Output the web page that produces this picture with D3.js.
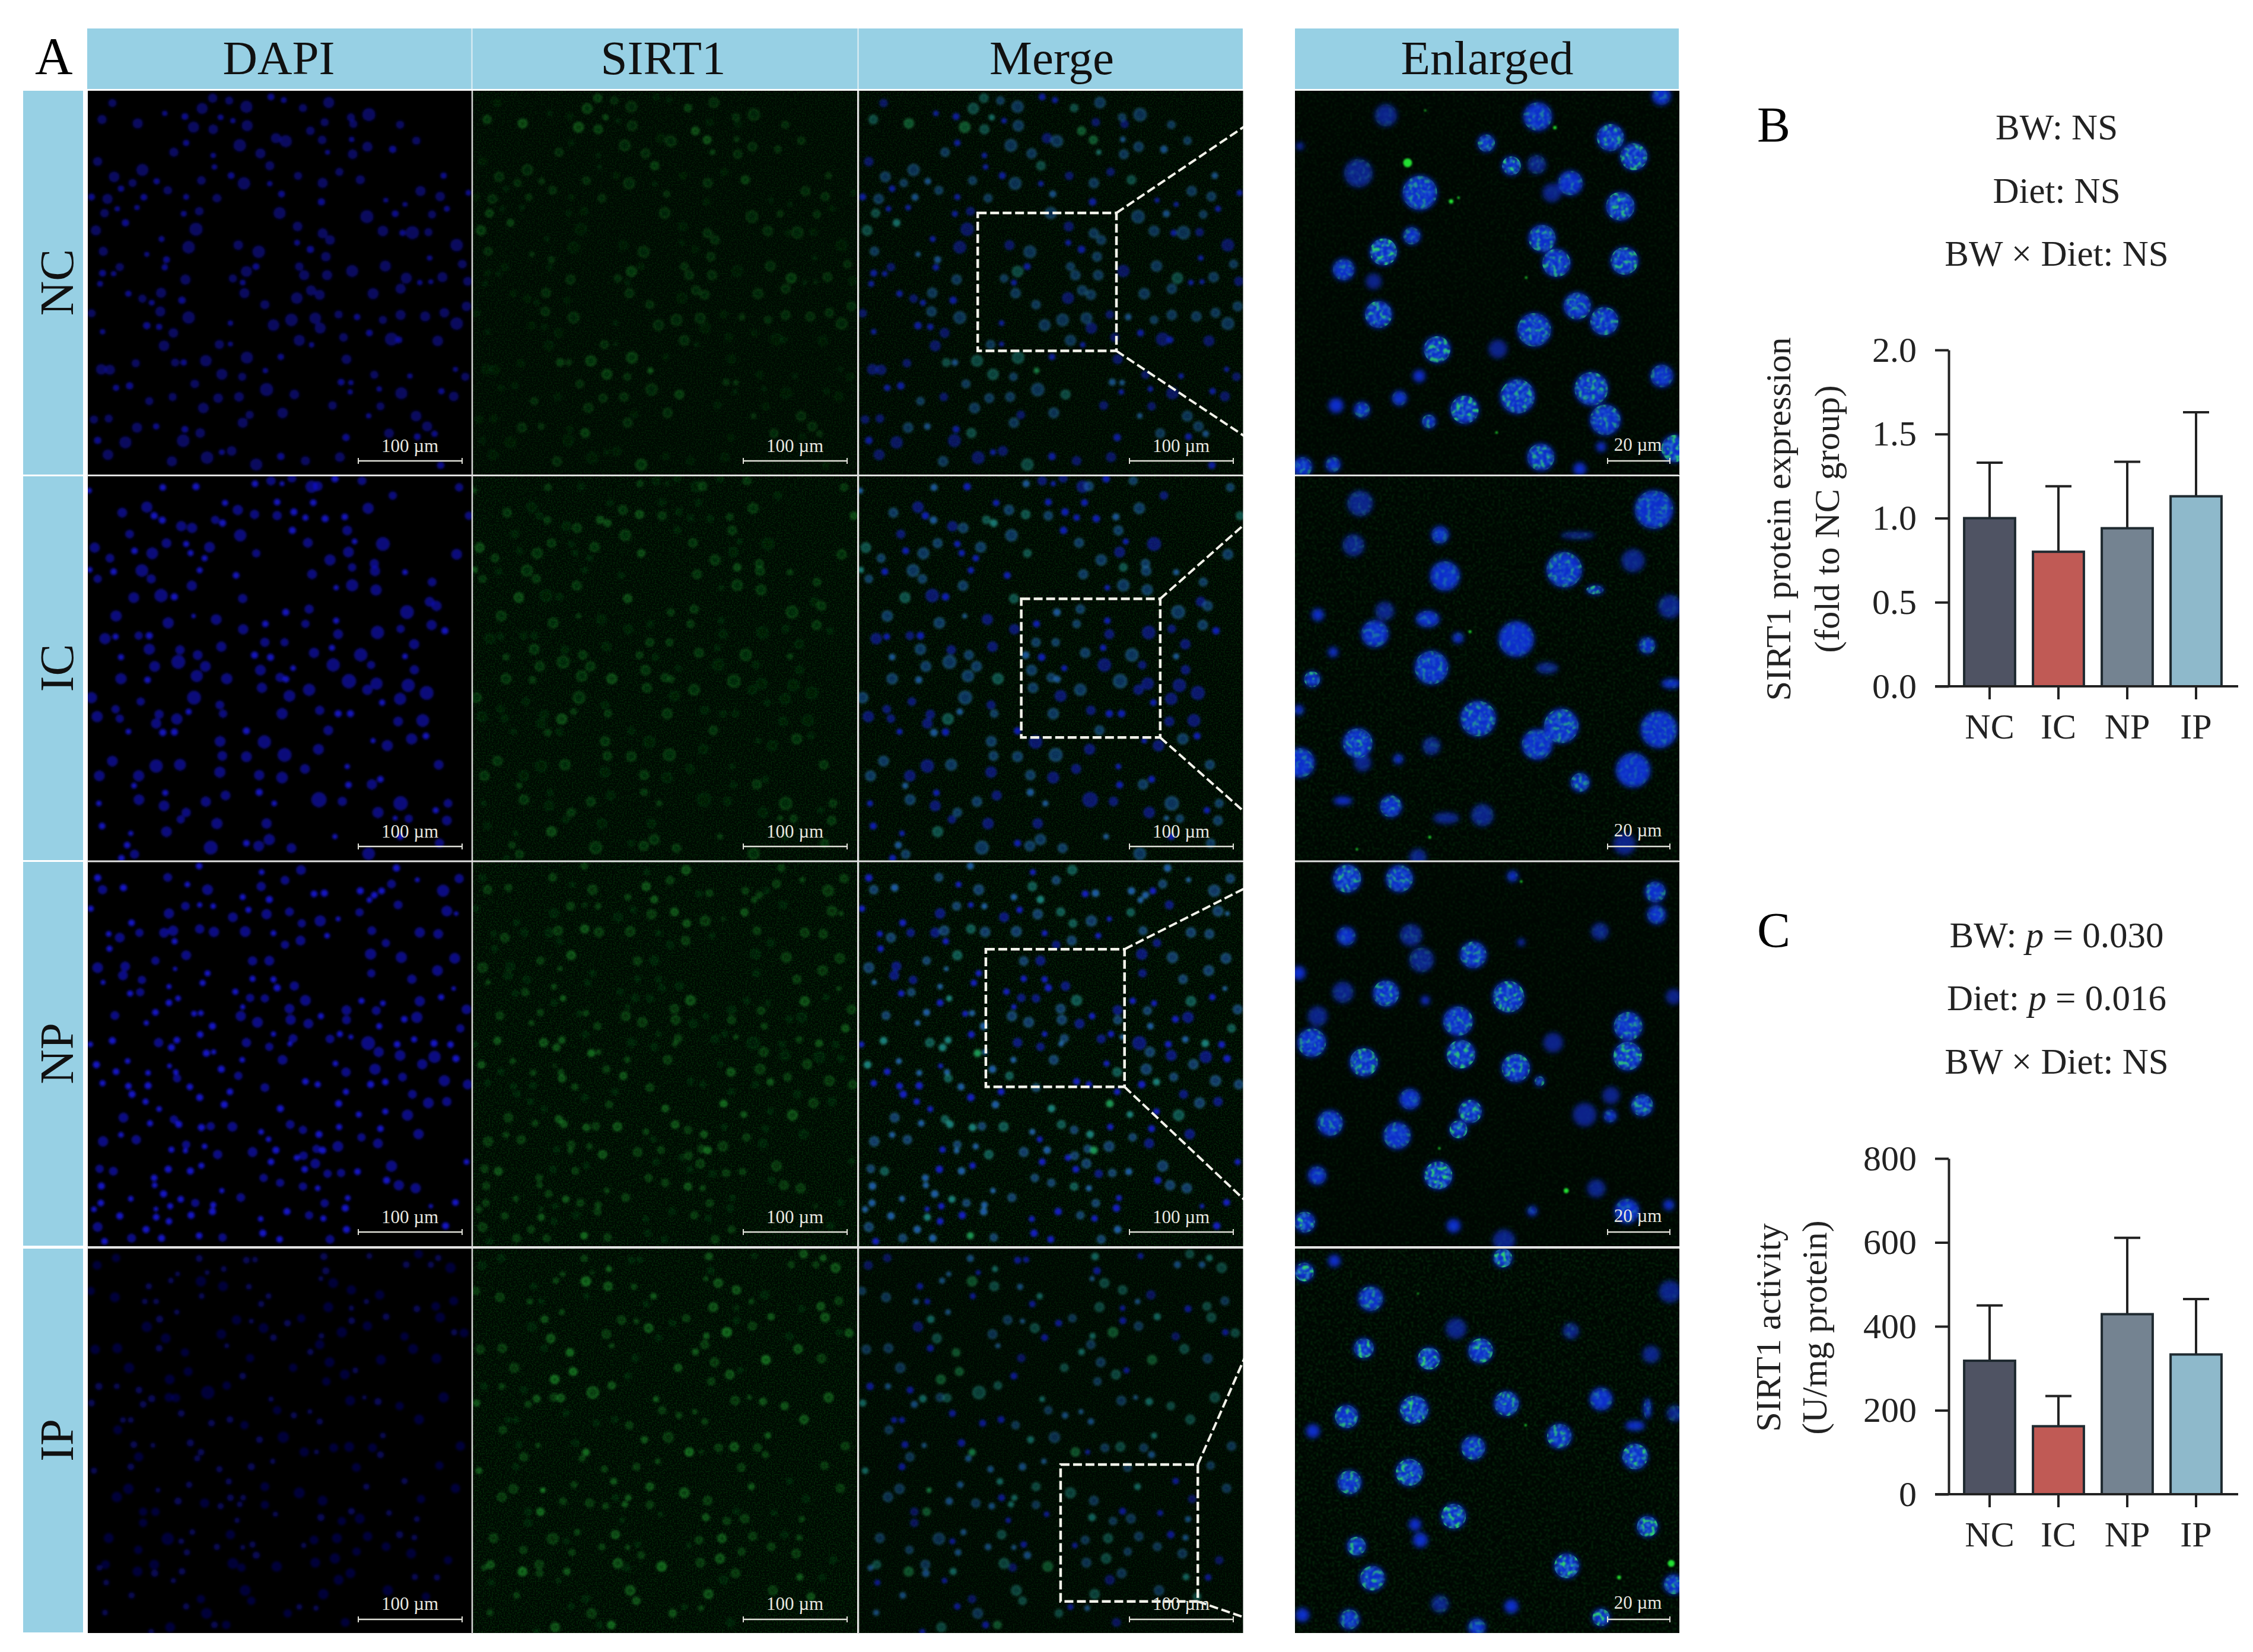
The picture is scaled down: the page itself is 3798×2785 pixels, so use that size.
<!DOCTYPE html>
<html><head><meta charset="utf-8">
<script src="https://cdn.jsdelivr.net/npm/d3@7/dist/d3.min.js"></script>
<style>html,body{margin:0;padding:0;background:#fff}svg{display:block}text{font-family:"Liberation Serif","Times New Roman",serif}</style>
</head><body><svg id="fig" width="3798" height="2785" viewBox="0 0 3798 2785"></svg>
<script>
// ---------- bar chart data ----------
const groups = ["NC","IC","NP","IP"];
const proteinMean = [1.0,0.80,0.94,1.13];
const proteinUpper = [1.33,1.19,1.335,1.63];
const activityMean = [318,162,429,333];
const activityUpper = [450,234,611,465];
const proteinTicks = [0,0.5,1.0,1.5,2.0];
const activityTicks = [0,200,400,600,800];
const barColors = ["#4f5363","#c05a55","#748391","#8eb9cb"];
const columnTitles = ["DAPI","SIRT1","Merge"];
const statsB = ["BW: NS","Diet: NS","BW × Diet: NS"];
// ---------- micrograph cells: [x, y, radius, green level, stretch] ----------
const fieldNC = [[508,30,16,2],[575,40,14,1],[645,65,22,1],[465,72,20,2],[745,25,12,0],[797,38,10,0],[875,70,14,2],[980,48,20,1],[1070,108,14,1],[1143,97,24,1],[1270,138,14,1],[58,117,16,2],[203,133,18,3],[430,148,20,3],[510,157,17,2],[648,142,20,1],[905,163,15,3],[1080,135,14,0],[963,128,14,0],[100,50,14,0],[313,92,9,0],[395,105,12,0],[540,108,10,2],[590,122,9,0],[765,193,18,0],[805,205,22,1],[953,200,15,3],[1073,198,9,1],[1137,228,18,1],[1336,203,14,1],[618,222,23,1],[702,255,18,1],[400,212,11,0],[350,250,16,1],[975,250,8,2],[1077,258,17,1],[1240,238,13,1],[740,305,16,2],[40,288,16,0],[222,322,22,1],[510,263,9,0],[515,310,9,0],[107,350,19,1],[583,345,12,0],[855,346,14,0],[1023,330,14,0],[1108,362,16,2],[280,368,11,1],[182,375,14,1],[462,365,15,1],[635,377,23,1],[955,375,18,1],[1447,345,11,1],[325,405,15,1],[135,398,11,0],[15,432,12,0],[80,440,18,1],[228,433,12,1],[400,432,10,0],[525,437,15,1],[788,420,12,1],[740,378,9,0],[1353,408,18,1],[1433,430,17,1],[1548,415,10,0],[950,452,13,0],[1212,445,8,0],[1290,462,8,0],[68,498,15,2],[120,480,9,0],[200,475,9,0],[390,500,10,0],[453,490,15,0],[780,497,22,1],[1135,512,24,1],[1250,500,12,1],[1400,503,14,1],[1460,480,10,0],[153,537,13,2],[33,568,18,2],[440,563,24,0],[1200,570,19,1],[1320,577,24,1],[1280,578,11,0],[1385,575,14,0],[853,552,17,0],[955,580,18,1],[985,607,17,1],[300,603,10,0],[410,636,23,0],[612,628,17,0],[851,618,10,0],[905,645,13,0],[695,655,23,1],[63,653,16,1],[968,675,17,1],[1500,628,23,0],[1390,680,9,0],[320,687,12,1],[240,665,8,1],[130,717,14,0],[313,718,11,0],[1210,713,20,1],[860,715,15,1],[880,750,18,1],[684,715,12,0],[645,735,20,2],[973,750,18,1],[1075,733,22,0],[1523,705,15,1],[60,742,12,0],[105,744,9,0],[397,768,18,1],[1295,762,20,2],[1442,758,18,1],[1350,780,9,0],[1395,777,8,0],[590,763,14,1],[1545,775,16,0],[630,780,10,0],[50,785,10,0],[1272,805,18,1],[908,812,18,1],[943,830,18,1],[637,823,18,1],[298,822,18,1],[165,825,11,0],[1160,825,20,1],[222,845,14,0],[383,852,13,0],[850,843,21,0],[260,862,10,0],[720,870,16,1],[295,898,18,1],[15,905,14,0],[1540,877,17,1],[410,922,23,1],[1272,912,18,1],[1372,918,18,1],[1450,903,17,1],[828,932,23,1],[925,925,21,1],[1020,910,14,0],[1095,920,11,1],[1200,932,14,1],[755,953,21,1],[945,965,20,0],[1500,947,23,1],[580,945,9,0],[240,955,13,0],[290,960,11,0],[60,980,9,0],[348,985,17,0],[1145,985,12,0],[1040,1003,15,0],[1235,1010,24,0],[1265,1013,12,0],[1423,1017,19,0],[860,1015,20,1],[535,1032,16,1],[310,1037,19,0],[580,1030,8,0],[910,1033,9,0],[480,1098,21,2],[647,1085,22,2],[1052,1092,17,0],[355,1105,14,2],[390,1105,11,1],[195,1108,14,0],[785,1082,11,0],[55,1133,19,0],[90,1135,18,0],[545,1153,20,2],[628,1163,14,1],[722,1138,9,3],[1165,1155,14,0],[1310,1160,9,0],[1535,1163,14,0],[1495,1133,8,0],[435,1192,15,1],[1030,1185,12,1],[1070,1187,9,1],[115,1208,11,0],[170,1200,13,0],[727,1215,24,1],[1185,1213,9,0],[1275,1230,22,0],[1438,1222,11,0],[840,1235,17,2],[530,1250,17,1],[615,1245,17,1],[1067,1225,9,0],[1488,1243,17,0],[345,1245,14,0],[250,1262,14,1],[470,1290,19,1],[1190,1283,14,0],[792,1310,19,1],[995,1280,15,0],[658,1318,14,0],[1335,1323,19,1],[85,1333,14,0],[25,1337,14,0],[630,1350,18,1],[1142,1322,9,1],[200,1370,18,1],[278,1365,11,1],[395,1377,12,0],[1380,1365,18,1],[457,1392,17,2],[1410,1395,11,1],[1225,1393,17,1],[40,1422,13,0],[153,1430,22,0],[388,1423,23,0],[1050,1410,13,0],[1340,1407,12,0],[82,1480,19,0],[585,1465,17,0],[485,1492,23,0],[545,1470,10,0],[785,1487,13,0],[1025,1490,17,0],[342,1507,18,1],[885,1505,16,0],[685,1520,22,2],[1435,1523,13,0]];
const fieldIC = [[745,18,16,0],[680,30,12,1],[830,8,15,0],[1115,18,15,1],[1005,10,13,0],[910,42,22,0],[935,40,17,1],[1240,78,14,0],[1510,45,14,1],[305,45,12,1],[440,42,13,0],[790,30,8,0],[5,58,10,1],[770,105,12,0],[558,108,11,0],[917,107,12,0],[240,125,20,0],[270,160,13,0],[140,148,17,1],[610,137,18,1],[678,155,16,2],[770,160,16,1],[838,145,13,0],[1140,130,20,1],[1045,165,12,1],[885,168,11,0],[965,172,13,0],[518,177,14,2],[548,190,13,2],[303,178,13,1],[380,203,18,0],[424,210,18,1],[170,235,15,0],[620,240,22,1],[832,220,13,0],[1055,220,17,1],[1550,160,14,2],[320,272,17,1],[400,275,11,0],[1085,265,10,0],[1200,275,25,0],[895,270,17,1],[28,290,18,2],[495,288,19,1],[190,303,12,0],[262,313,21,1],[685,313,14,2],[1060,308,19,0],[1500,317,19,1],[418,312,11,0],[90,333,15,1],[475,333,11,0],[985,340,20,1],[1165,355,16,1],[1168,385,18,1],[1075,370,14,2],[220,383,23,1],[8,380,10,2],[105,388,12,0],[455,382,11,0],[1290,390,10,1],[603,403,12,0],[912,398,17,1],[40,417,14,1],[258,417,16,1],[1400,430,15,1],[423,445,18,1],[1075,443,22,1],[1010,453,9,0],[1172,462,20,1],[187,493,19,2],[298,485,24,0],[352,490,13,0],[630,497,16,2],[1390,510,17,0],[1418,527,18,1],[1298,552,25,1],[805,553,13,1],[900,540,16,1],[115,568,20,1],[522,582,19,0],[430,568,7,1],[327,596,20,1],[885,600,14,1],[1010,587,11,0],[722,600,12,0],[1398,605,18,1],[632,622,18,0],[1272,620,14,0],[1178,635,24,0],[1018,642,17,0],[1452,628,13,0],[70,660,20,0],[113,652,11,0],[207,648,14,0],[250,648,13,0],[720,675,16,1],[800,675,14,1],[1327,683,18,0],[543,693,18,0],[250,703,20,1],[375,706,16,0],[993,697,11,0],[920,718,18,1],[1110,726,24,1],[447,727,17,1],[678,727,13,1],[135,735,11,1],[743,736,13,0],[1290,732,10,1],[368,755,25,1],[998,767,24,0],[478,773,19,1],[272,773,19,1],[835,780,10,0],[1152,767,14,0],[702,788,19,1],[1328,787,16,0],[135,823,20,1],[443,812,22,1],[565,823,20,2],[782,818,16,1],[806,825,12,1],[243,828,12,1],[1062,833,26,1],[1174,843,22,0],[1303,850,24,0],[1137,868,18,0],[708,860,18,1],[900,868,22,1],[1378,881,25,0],[15,900,20,1],[432,900,25,1],[820,893,21,0],[215,916,14,0],[1270,905,22,0],[1197,920,11,0],[537,930,15,0],[113,947,14,0],[943,952,16,0],[790,965,20,1],[410,957,11,1],[38,977,20,0],[1018,965,13,0],[1068,965,13,0],[550,965,14,1],[130,985,14,0],[290,968,16,0],[362,987,20,2],[278,1005,18,0],[1362,993,23,0],[1262,997,17,0],[978,1033,17,1],[305,1042,13,1],[352,1040,13,0],[165,1038,10,0],[645,1035,13,0],[1317,1068,20,1],[1375,1056,12,0],[538,1078,19,1],[718,1080,24,0],[1160,1075,9,0],[1218,1095,20,0],[938,1110,19,0],[800,1133,25,1],[547,1137,17,1],[645,1140,19,1],[100,1158,19,1],[1427,1173,17,1],[278,1178,24,0],[375,1173,21,1],[883,1190,17,0],[1055,1180,9,0],[537,1203,20,0],[207,1218,20,0],[47,1218,19,1],[697,1215,18,1],[790,1225,21,0],[1155,1253,18,1],[1190,1232,12,0],[1060,1255,12,0],[188,1258,10,1],[315,1287,11,0],[560,1298,17,0],[697,1285,13,1],[940,1315,28,0],[1035,1322,16,0],[1272,1330,26,1],[208,1315,19,1],[480,1323,18,1],[310,1340,19,0],[45,1330,10,0],[758,1330,10,1],[1465,1330,15,1],[400,1367,16,1],[1180,1367,20,0],[1415,1358,11,0],[378,1395,14,0],[1460,1400,17,1],[1305,1392,14,1],[525,1412,20,0],[727,1412,18,0],[58,1422,12,0],[320,1445,19,2],[1250,1390,8,1],[175,1452,9,0],[738,1477,20,1],[1005,1465,9,1],[160,1500,12,1],[645,1492,12,0],[695,1503,19,1],[500,1510,25,1],[828,1512,17,1],[190,1537,16,1],[137,1553,12,0],[1142,1535,23,1],[1270,1465,12,0],[1430,1492,16,1]];
const fieldNP = [[867,33,17,2],[40,65,13,0],[325,63,15,1],[453,17,12,1],[707,42,10,0],[802,75,15,1],[1255,25,13,1],[1510,68,16,1],[60,113,16,1],[145,105,13,1],[405,92,10,0],[487,113,19,1],[705,100,16,2],[1235,90,15,1],[1445,117,22,1],[1340,73,8,1],[630,143,11,1],[738,153,13,2],[920,130,12,0],[962,127,13,1],[1108,118,13,1],[1165,135,12,1],[1195,118,12,0],[1145,155,10,1],[12,190,11,0],[397,180,15,1],[455,175,9,0],[510,180,10,1],[1262,175,15,0],[330,210,18,0],[590,225,17,0],[653,195,11,0],[727,213,18,1],[820,203,15,2],[1105,205,14,2],[1460,200,19,1],[1498,210,7,1],[178,248,12,0],[945,240,20,1],[870,250,14,2],[1018,232,8,0],[85,293,10,0],[130,308,17,1],[210,288,14,0],[310,288,17,0],[347,280,18,1],[455,273,16,2],[513,285,18,1],[640,283,19,1],[755,290,10,0],[1155,280,15,1],[1350,287,18,1],[1425,293,17,1],[973,300,10,0],[353,323,11,0],[865,320,17,1],[802,337,14,0],[1212,330,14,0],[88,353,11,0],[1150,375,20,0],[400,380,17,2],[670,403,16,1],[738,402,17,0],[275,402,14,1],[1275,388,20,1],[1492,392,19,1],[40,430,19,1],[152,425,17,0],[143,462,17,0],[355,435,7,1],[487,453,11,0],[1153,453,14,0],[1422,442,19,1],[670,475,11,0],[755,478,11,0],[220,480,14,0],[62,490,8,1],[1318,477,16,1],[467,492,11,0],[770,512,13,0],[840,505,16,0],[330,507,9,1],[172,535,11,0],[213,530,14,1],[600,528,11,0],[1488,515,7,1],[660,553,14,0],[720,555,14,0],[885,563,19,2],[367,555,10,2],[1113,565,11,0],[1350,567,18,2],[1437,550,11,0],[330,573,12,0],[1200,575,10,0],[820,597,17,1],[1052,603,17,0],[1173,605,15,1],[432,617,10,0],[460,615,10,1],[275,612,12,1],[1540,600,17,1],[630,590,9,0],[110,625,15,1],[622,627,18,1],[948,627,11,0],[825,642,18,1],[1287,640,12,0],[1338,632,20,0],[1052,643,15,1],[690,652,19,1],[897,658,17,0],[238,655,9,1],[507,668,13,1],[1185,668,11,1],[1515,677,14,2],[457,702,12,0],[1025,700,11,0],[985,720,15,0],[1070,712,8,1],[755,700,9,0],[835,718,15,1],[645,735,16,0],[100,727,13,2],[288,735,16,2],[362,725,12,2],[1327,722,11,1],[1140,737,25,0],[1408,738,13,2],[1475,743,12,0],[10,742,10,0],[1258,742,12,0],[340,755,13,2],[738,752,14,0],[822,740,9,1],[482,778,13,3],[1183,773,18,1],[512,773,9,1],[1270,787,19,0],[1410,793,22,0],[1497,800,13,0],[792,805,17,1],[162,810,10,1],[628,805,10,1],[1360,823,18,1],[35,825,13,2],[1007,820,10,0],[115,853,12,0],[332,830,8,0],[1168,843,20,1],[543,843,13,1],[245,858,10,1],[358,855,10,1],[1050,855,16,2],[612,870,14,2],[363,880,14,2],[1280,875,15,1],[1450,890,20,1],[60,900,11,0],[1150,905,13,0],[885,893,12,0],[1210,895,12,2],[415,915,12,1],[1545,905,17,1],[245,910,13,0],[165,912,12,0],[935,905,11,0],[720,918,15,1],[578,935,12,0],[1050,935,11,0],[180,945,13,0],[1320,945,15,0],[455,958,13,0],[1385,980,19,1],[1460,975,16,0],[1020,983,13,3],[235,975,11,0],[555,987,13,1],[783,1003,13,2],[1210,1015,11,0],[1300,1030,20,2],[145,1040,17,1],[290,1005,10,0],[1102,1027,11,2],[350,1047,14,2],[370,1067,13,2],[823,1068,15,2],[253,1063,11,1],[462,1080,13,2],[500,1075,14,1],[588,1077,17,2],[1022,1078,11,0],[875,1090,14,1],[1190,1085,12,0],[940,1108,13,2],[1345,1107,18,0],[705,1098,10,1],[135,1110,10,1],[1113,1120,14,1],[62,1137,18,1],[197,1130,16,1],[735,1128,10,0],[1180,1145,17,0],[400,1150,14,1],[1017,1157,19,1],[475,1157,10,1],[340,1170,11,0],[930,1167,14,1],[955,1173,13,3],[397,1175,9,1],[765,1172,13,1],[670,1180,17,1],[528,1190,16,2],[877,1195,15,1],[850,1203,11,0],[745,1220,12,0],[925,1227,17,1],[1540,1220,10,0],[1235,1237,20,1],[462,1235,11,0],[48,1248,14,1],[104,1258,15,2],[327,1250,13,0],[417,1257,13,1],[882,1250,12,0],[975,1268,14,0],[1030,1265,14,1],[1097,1260,12,1],[270,1285,12,1],[715,1285,14,1],[1215,1295,13,0],[55,1318,13,1],[272,1315,10,1],[782,1305,14,1],[875,1320,14,2],[1265,1315,18,1],[1333,1327,18,1],[935,1327,10,1],[545,1337,9,1],[308,1350,13,1],[622,1365,15,1],[378,1372,12,2],[1057,1367,10,0],[175,1370,10,1],[437,1387,14,1],[53,1387,12,1],[963,1388,14,1],[1495,1385,12,0],[335,1400,11,0],[510,1395,11,1],[25,1413,10,1],[1047,1408,13,0],[1395,1400,7,0],[277,1412,8,0],[507,1422,13,1],[810,1422,13,0],[900,1437,14,1],[130,1440,13,1],[278,1445,12,2],[420,1437,13,0],[703,1452,10,0],[958,1450,11,0],[330,1462,12,0],[40,1485,17,1],[237,1495,13,1],[1052,1495,13,1],[1455,1480,13,0],[453,1520,12,3],[178,1530,15,1],[300,1530,13,1],[548,1527,14,1],[985,1535,15,1],[712,1510,13,0],[780,1535,12,0],[68,1543,12,0]];
const fieldIP = [[115,38,14,0],[453,40,12,1],[960,32,13,2],[645,47,12,0],[680,45,10,0],[1425,38,11,2],[1345,22,15,2],[38,68,15,0],[1145,30,10,0],[1295,65,12,1],[1475,78,18,2],[553,83,10,2],[1395,65,11,1],[485,97,8,0],[968,90,13,0],[365,103,8,1],[460,133,18,3],[550,153,17,2],[338,130,10,1],[248,153,11,0],[998,140,17,2],[655,155,10,1],[12,172,14,1],[1072,168,16,2],[110,198,17,1],[735,193,10,2],[463,193,10,0],[1187,188,16,0],[948,122,8,1],[1488,213,15,1],[278,215,10,0],[232,215,10,1],[705,225,11,0],[1133,215,9,1],[978,238,17,2],[1415,235,15,2],[1072,242,9,0],[1338,245,12,0],[362,258,9,1],[1213,277,12,2],[292,287,13,2],[605,290,16,1],[665,295,8,1],[868,283,14,1],[1433,280,17,2],[812,303,12,0],[1073,293,12,0],[240,318,18,0],[1137,315,16,1],[715,323,17,2],[1033,340,18,3],[543,348,17,1],[1530,343,15,2],[1490,340,11,0],[1288,357,14,0],[755,362,12,0],[950,355,10,2],[317,365,17,2],[943,390,16,1],[905,420,11,2],[120,405,17,1],[30,410,16,1],[395,422,14,3],[290,405,12,0],[565,395,8,1],[1323,408,17,2],[660,445,14,0],[1418,447,17,1],[1192,452,17,3],[168,485,18,1],[983,462,17,1],[835,484,14,2],[408,500,15,3],[1045,512,17,2],[1088,495,10,0],[630,518,12,0],[333,532,17,3],[970,540,14,1],[45,560,13,0],[118,560,10,1],[565,557,14,2],[488,585,24,2],[208,575,12,0],[260,610,13,2],[330,605,15,1],[358,607,15,2],[225,633,12,1],[1067,618,17,1],[1447,605,18,2],[745,612,9,2],[1125,605,7,1],[1180,622,13,2],[15,628,12,2],[1268,640,14,2],[770,657,14,1],[380,670,12,0],[838,678,11,1],[903,663,8,1],[143,697,10,0],[175,697,10,0],[578,695,12,0],[1347,695,17,2],[943,703,11,1],[503,710,12,0],[637,718,14,1],[122,737,15,1],[795,767,20,1],[698,777,12,2],[1200,760,10,2],[1515,803,16,1],[187,797,12,0],[417,790,13,0],[265,800,8,1],[1063,806,17,2],[1000,810,15,1],[1158,810,15,1],[880,827,16,3],[930,827,8,0],[460,828,12,3],[207,847,16,1],[445,853,11,1],[1190,838,12,1],[752,865,9,1],[175,887,12,0],[665,887,13,1],[25,903,11,2],[1430,882,14,1],[1092,890,15,1],[535,897,11,1],[573,947,11,2],[1288,945,11,0],[412,960,11,1],[720,968,15,2],[1133,968,11,2],[165,977,18,1],[1495,975,16,1],[285,982,8,3],[860,993,19,2],[118,1010,18,1],[580,1013,12,0],[632,1013,10,2],[955,1025,17,1],[367,1027,13,1],[475,1035,16,1],[540,1047,11,1],[720,1042,14,1],[618,1040,10,2],[1355,1018,14,0],[225,1070,14,0],[275,1070,14,3],[1072,1068,12,0],[763,1080,9,0],[1225,1075,10,0],[948,1093,13,2],[1033,1108,14,1],[1106,1098,17,1],[607,1105,9,0],[225,1115,14,0],[1338,1100,10,1],[425,1153,10,1],[85,1177,17,1],[325,1180,22,1],[380,1190,10,0],[580,1163,16,2],[1138,1170,16,1],[1268,1163,13,0],[920,1185,15,1],[1013,1178,17,2],[1328,1175,10,1],[878,1207,9,0],[670,1203,11,0],[525,1213,11,1],[205,1225,14,1],[1213,1212,15,1],[403,1235,11,1],[630,1215,8,1],[1093,1232,14,1],[685,1247,13,1],[1315,1240,17,1],[1005,1260,18,2],[1465,1267,14,0],[925,1277,17,1],[72,1285,15,2],[47,1298,10,1],[270,1285,17,1],[272,1320,13,1],[590,1280,19,2],[768,1293,18,3],[202,1313,17,3],[383,1313,12,2],[625,1297,14,0],[1068,1320,17,1],[1020,1347,17,0],[1330,1335,11,2],[1420,1337,11,0],[75,1358,10,0],[348,1350,9,0],[640,1390,19,2],[1220,1390,18,1],[958,1405,18,2],[178,1410,11,1],[460,1425,14,0],[665,1432,14,2],[1375,1415,14,2],[400,1455,11,0],[860,1457,10,0],[70,1480,10,1],[483,1483,19,1],[813,1483,14,2],[928,1462,9,1],[1047,1520,15,0],[335,1540,17,2],[563,1530,14,3],[515,1530,12,0],[258,1558,10,0]];
const enlargedNC = [[370,100,45,.2],[987,105,58,.7],[1490,20,38,.5],[1283,190,55,1.2],[1378,268,55,1.4],[778,213,35,1.2],[20,225,14,0],[258,335,58,.3],[880,305,38,2.2],[983,300,38,.3],[1120,375,50,.6],[1045,415,38,.1],[508,415,70,.9],[1323,470,58,1.4],[475,590,35,.8],[1005,600,55,1.1],[360,655,55,1.6],[1063,700,57,1.2],[1340,692,56,1.4],[198,727,44,.7],[320,775,32,0],[340,910,55,1.2],[1148,875,55,1],[1258,937,57,1.1],[973,972,68,1],[578,1052,54,1.4],[825,1050,38,0],[505,1160,25,0],[1205,1212,68,1.2],[1492,1160,46,.7],[905,1243,70,1.2],[690,1297,57,1.5],[167,1280,30,0],[272,1297,32,.6],[425,1250,30,.3],[545,1345,28,.9],[1262,1338,62,1],[1245,1448,20,0],[1000,1490,55,1.2],[1158,1538,26,0],[1545,1455,55,1.5],[30,1530,40,.8],[155,1520,30,.5]];
const enlargedIC = [[265,110,52,.3],[590,238,35,.5],[238,280,44,.3],[1460,135,78,.7],[1150,240,32,.2,2.2],[1375,343,47,.1],[610,405,60,.4],[1095,380,72,.9],[1220,462,25,1.5,1.4],[1525,530,48,.2],[93,563,25,.1],[365,548,38,.2],[540,580,40,.5,1.2],[325,640,55,.6],[900,662,72,.4],[663,657,22,.2],[1432,688,33,.7],[155,715,20,.1],[555,778,68,.8],[1025,780,32,.2,1.4],[70,825,32,1.4],[1530,843,28,.3,1.4],[745,985,72,.9],[1083,1015,70,1],[985,1090,62,.6],[1480,1030,75,.5],[255,1085,60,1],[20,1165,60,.6],[275,1165,35,.1],[555,1097,36,.3],[420,1150,20,.2],[1375,1195,70,.4],[1160,1245,38,1],[390,1342,44,.8],[615,1390,35,.1,1.5],[762,1378,45,.2],[1340,1495,45,0],[500,1550,35,.1],[15,950,20,.2],[195,1320,25,0,1.5]];
const enlargedNP = [[212,68,57,1.2],[425,68,55,.9],[885,58,22,.3],[1465,122,42,.8],[1470,215,38,.5],[208,302,38,.4],[472,298,45,.3],[515,398,50,.3],[725,378,54,1],[920,327,14,0],[1240,283,35,.2],[15,452,28,0],[195,530,43,.2],[370,535,53,1.1],[868,548,64,1.4],[1540,548,32,0],[530,563,18,0],[92,628,40,.1],[663,648,60,.9],[1355,668,58,1],[68,735,58,1],[1050,735,40,0],[675,782,58,1.4],[280,815,57,1.3],[1353,790,58,1.4],[898,838,57,1.3],[995,892,20,1.2],[1285,950,35,0],[1412,990,44,1.2],[467,965,42,.5],[713,1015,47,1.4],[1178,1028,48,0],[1282,1033,26,.5],[143,1062,52,.8],[665,1088,36,1.5],[415,1113,55,.7],[583,1275,57,2],[90,1275,37,.4],[1225,1328,37,.1],[1350,1420,50,.5],[40,1465,42,1.6],[645,1480,28,.1],[850,1540,45,.1],[1520,1395,22,.1],[965,1420,20,.3]];
const enlargedIP = [[38,95,38,1.7],[845,38,38,2],[308,203,50,.9],[1525,175,45,.1],[160,50,25,0],[655,325,42,.1],[1122,335,32,.3],[280,405,40,2],[545,447,45,2.4],[755,415,50,1.5],[1448,430,35,.1],[485,655,57,2],[860,630,50,1.3],[1245,612,46,.5],[210,683,47,1.3],[1433,650,25,.6,.6],[1545,670,33,.3],[73,742,28,0],[1383,720,28,.1,1.4],[1075,762,50,1.2],[725,810,48,1],[1383,845,52,1.6],[465,910,55,1.6],[222,950,48,1.3],[645,1088,50,1.6],[1433,1130,42,1.8],[488,1122,25,0],[510,1185,30,.1],[250,1210,38,1.4],[1105,1290,50,2],[315,1340,50,1.2],[1540,1365,40,1.2],[590,1445,35,.3],[880,1455,28,.1],[30,1490,28,.1],[222,1508,40,.8],[1245,1500,35,2.4],[740,1540,35,.6]];
const spotsNC = [[458,293,18],[635,450,9],[665,435,5],[1057,150,7],[820,1390,5],[940,760,5],[530,80,4]];
const spotsIC = [[712,632,6],[548,1468,6],[252,1517,5]];
const spotsNP = [[1103,1337,10],[587,1165,5],[920,80,5]];
const spotsIP = [[1318,1337,8],[1530,1280,14],[938,718,5],[500,183,4]];
// dashed inset box [x0,y0,x1,y1] and connector ends [yTop,yBottom], read in the same 0-1568 frame
const boxes = [[483,497,1047,1058],[660,498,1225,1062],[516,355,1080,915],[820,878,1378,1435]];
const connectors = [[145,1405],[195,1365],[108,1375],[445,1500]];
const rowNames = ["NC","IC","NP","IP"];
const fields = [fieldNC,fieldIC,fieldNP,fieldIP];
const enlargeds = [enlargedNC,enlargedIC,enlargedNP,enlargedIP];
const spots = [spotsNC,spotsIC,spotsNP,spotsIP];
const dapiGain = [0.72,0.95,1.0,0.42];
const greenGain = [0.62,0.8,0.9,0.9];
const mergeGain = [0.8,0.92,1.0,0.72];
const haze = [0.2,0.3,0.2,0.36];

// ---------- layout ----------
const svg = d3.select("#fig");
const rowTops = [153,803,1453,2105];
const colLefts = [148,797,1448];
const enlLeft = 2183;
const PW = 648, PH = 648;
const S = d3.scaleLinear().domain([0,1568]).range([0,650]);
const headerFill = "#97d0e4";

const defs = svg.append("defs");
function blur(id,sd){defs.append("filter").attr("id",id).attr("x","-5%").attr("y","-5%").attr("width","110%").attr("height","110%")
  .append("feGaussianBlur").attr("stdDeviation",sd);}
blur("b1",1.9); blur("b3",4); blur("b2",1.8);
function speckle(id,freq,mat,seed,sd){
  const f=defs.append("filter").attr("id",id).attr("x","0").attr("y","0").attr("width","100%").attr("height","100%").attr("color-interpolation-filters","sRGB");
  f.append("feTurbulence").attr("type","fractalNoise").attr("baseFrequency",freq).attr("numOctaves",2).attr("seed",seed).attr("result","n");
  f.append("feColorMatrix").attr("in","n").attr("type","matrix").attr("values",mat).attr("result","c");
  f.append("feGaussianBlur").attr("in","c").attr("stdDeviation",sd).attr("result","cb");
  f.append("feComposite").attr("in","cb").attr("in2","SourceGraphic").attr("operator","in");
}
speckle("spGreen",0.14,"0 0 0 0 0.18  0 0 0 0 0.82  0 0 0 0 0.45  10 0 0 0 -5.6",4,1.2);
speckle("spCyan",0.16,"0 0 0 0 0.18  0 0 0 0 0.56  0 0 0 0 0.82  7 0 0 0 -3.4",9,1.6);
speckle("bgGreen",0.3,"0 0 0 0 0.05  0 0 0 0 0.42  0 0 0 0 0.1  9 0 0 0 -4.9",6,0.9);
speckle("bgLow",0.4,"0 0 0 0 0.03  0 0 0 0 0.3  0 0 0 0 0.06  8 0 0 0 -3.9",3,0.7);

defs.append("clipPath").attr("id","panelClip").append("rect").attr("width",PW).attr("height",PH);

const mergeColor = d3.scaleLinear().domain([0,1,2,3]).range(["#1420e0","#1d5ec0","#188c8c","#16a860"]);
const mergeRing = d3.scaleLinear().domain([0,1,2,3]).range(["#1c34f0","#3a98d0","#38c0b0","#40d878"]);
const rx = d=>S(d[2])*(d[4]||1), ry = d=>S(d[2])/(d[4]||1);

function panel(x,y){
  const g = svg.append("g").attr("transform",`translate(${x},${y})`).attr("clip-path","url(#panelClip)");
  g.append("rect").attr("width",PW).attr("height",PH).attr("fill","#000");
  return g;
}
function dapiPanel(g,cells,gain){
  g.append("g").attr("filter","url(#b1)").selectAll("ellipse").data(cells).join("ellipse")
    .attr("cx",d=>S(d[0])).attr("cy",d=>S(d[1])).attr("rx",rx).attr("ry",ry)
    .attr("fill","#1616e8").attr("fill-opacity",d=>gain*(d[2]<14?0.85:0.55))
    .attr("stroke","#1c1cf0").attr("stroke-width",1.5).attr("stroke-opacity",gain*0.7);
}
function sirtPanel(g,cells,gain){
  g.append("rect").attr("width",PW).attr("height",PH).attr("fill","#000a02");
  g.append("rect").attr("width",PW).attr("height",PH).attr("fill","#fff").attr("filter","url(#bgLow)").attr("opacity",gain*0.4);
  g.append("g").attr("filter","url(#b1)").selectAll("ellipse").data(cells).join("ellipse")
    .attr("cx",d=>S(d[0])).attr("cy",d=>S(d[1])).attr("rx",d=>rx(d)*0.9).attr("ry",d=>ry(d)*0.9)
    .attr("fill","#18a028").attr("fill-opacity",d=>gain*(0.1+0.12*d[3]))
    .attr("stroke","#30c040").attr("stroke-width",2.4).attr("stroke-opacity",d=>gain*(0.2+0.2*d[3]));
}
function mergePanel(g,cells,gain){
  g.append("rect").attr("width",PW).attr("height",PH).attr("fill","#000802");
  g.append("rect").attr("width",PW).attr("height",PH).attr("fill","#fff").attr("filter","url(#bgLow)").attr("opacity",gain*0.32);
  g.append("g").attr("filter","url(#b1)").selectAll("ellipse").data(cells).join("ellipse")
    .attr("cx",d=>S(d[0])).attr("cy",d=>S(d[1])).attr("rx",rx).attr("ry",ry)
    .attr("fill",d=>mergeColor(d[3])).attr("fill-opacity",d=>gain*(d[2]<14?0.85:0.5))
    .attr("stroke",d=>mergeRing(d[3])).attr("stroke-width",2).attr("stroke-opacity",gain*0.6);
}
function enlargedPanel(g,cells,sp,bg){
  g.append("rect").attr("width",PW).attr("height",PH).attr("fill","#000602");
  g.append("rect").attr("width",PW).attr("height",PH).attr("fill","#fff").attr("filter","url(#bgGreen)").attr("opacity",bg);
  const ell = (sel)=>sel.attr("cx",d=>S(d[0])).attr("cy",d=>S(d[1])).attr("rx",rx).attr("ry",ry);
  g.append("g").attr("filter","url(#b3)").selectAll("ellipse").data(cells).join("ellipse").call(ell)
    .attr("fill","#0f30dc").attr("fill-opacity",d=>d[3]<0.35&&d[2]>30?0.62:0.92);
  g.append("g").attr("filter","url(#spCyan)").selectAll("ellipse").data(cells).join("ellipse").call(ell)
    .attr("fill","#fff").attr("fill-opacity",d=>Math.min(0.75,d[3]*0.42));
  g.append("g").attr("filter","url(#spGreen)").selectAll("ellipse").data(cells).join("ellipse").call(ell)
    .attr("fill","#fff").attr("fill-opacity",d=>Math.min(1,d[3]*0.6));
  g.append("g").attr("filter","url(#b2)").selectAll("circle").data(sp).join("circle")
    .attr("cx",d=>S(d[0])).attr("cy",d=>S(d[1])).attr("r",d=>S(d[2]))
    .attr("fill","#20e030");
}
function scaleBar(g,x0,x1,y,label,textX,textY){
  g.append("line").attr("x1",x0).attr("x2",x1).attr("y1",y).attr("y2",y).attr("stroke","#e0e0d8").attr("stroke-width",2.4);
  [x0,x1].forEach(x=>g.append("line").attr("x1",x).attr("x2",x).attr("y1",y-5).attr("y2",y+5).attr("stroke","#e0e0d8").attr("stroke-width",2));
  g.append("text").attr("x",textX).attr("y",textY).attr("text-anchor","middle").attr("font-size",31).attr("fill","#e8e8e0").text(label);
}

// ---------- headers and row labels ----------
svg.append("rect").attr("x",147).attr("y",48).attr("width",1948).attr("height",102).attr("fill",headerFill);
svg.append("rect").attr("x",2183).attr("y",48).attr("width",647).attr("height",102).attr("fill",headerFill);
[795.5,1446.5].forEach(x=>svg.append("line").attr("x1",x).attr("x2",x).attr("y1",48).attr("y2",150).attr("stroke","#d5eaf2").attr("stroke-width",2.5));
const headerCenters=[470,1118,1773];
columnTitles.forEach((t,i)=>svg.append("text").attr("x",headerCenters[i]).attr("y",125).attr("text-anchor","middle").attr("font-size",81).attr("fill","#111").text(t));
svg.append("text").attr("x",2507).attr("y",125).attr("text-anchor","middle").attr("font-size",81).attr("fill","#111").text("Enlarged");
svg.append("text").attr("x",59).attr("y",124).attr("font-size",88).attr("fill","#000").text("A");

rowNames.forEach((name,i)=>{
  const top=rowTops[i];
  svg.append("rect").attr("x",39).attr("y",top).attr("width",101).attr("height",PH-1).attr("fill",headerFill);
  svg.append("text").attr("transform",`translate(123,${top+PH/2-1}) rotate(-90)`).attr("text-anchor","middle").attr("font-size",81).attr("fill","#111").text(name);
  const cells=fields[i];
  const barY=624+(i===3?1:0);
  const gD=panel(colLefts[0],top); dapiPanel(gD,cells,dapiGain[i]);
  const gS=panel(colLefts[1],top); sirtPanel(gS,cells,greenGain[i]);
  const gM=panel(colLefts[2],top); mergePanel(gM,cells,mergeGain[i]);
  const gE=panel(enlLeft,top); enlargedPanel(gE,enlargeds[i],spots[i],haze[i]);
  // inset box and connectors
  const b=boxes[i], c=connectors[i];
  gM.append("rect").attr("x",S(b[0])).attr("y",S(b[1])).attr("width",S(b[2]-b[0])).attr("height",S(b[3]-b[1]))
    .attr("fill","none").attr("stroke","#f2f2ea").attr("stroke-width",4.5).attr("stroke-dasharray","15 6");
  [[b[1],c[0]],[b[3],c[1]]].forEach(p=>gM.append("line").attr("x1",S(b[2])).attr("y1",S(p[0])).attr("x2",S(1568)).attr("y2",S(p[1]))
    .attr("stroke","#f2f2ea").attr("stroke-width",4).attr("stroke-dasharray","15 6"));
  [gD,gS,gM].forEach(g=>scaleBar(g,456,631,barY,"100 µm",543,609));
  scaleBar(gE,527,632,barY,"20 µm",578,607);
});
// panel separators
[796,1447].forEach(x=>svg.append("line").attr("x1",x).attr("x2",x).attr("y1",153).attr("y2",2754).attr("stroke","#d8d8d8").attr("stroke-width",2.5));
[801.5,1452,2103.5].forEach(y=>{
  svg.append("line").attr("x1",147).attr("x2",2095).attr("y1",y).attr("y2",y).attr("stroke","#e0e0e0").attr("stroke-width",3);
  svg.append("line").attr("x1",2183).attr("x2",2830).attr("y1",y).attr("y2",y).attr("stroke","#e0e0e0").attr("stroke-width",3);
});
svg.append("rect").attr("x",2095.5).attr("y",150).attr("width",87).attr("height",2620).attr("fill","#fff");

// ---------- bar charts ----------
const ink="#222";
function barChart(cfg){
  const x=d3.scaleBand().domain(groups).range([3296,3760]).paddingInner(0.26).paddingOuter(0.13);
  const y=d3.scaleLinear().domain(cfg.domain).range([cfg.bottom,cfg.top]);
  const g=svg.append("g");
  const rows=groups.map((k,i)=>({k,v:cfg.mean[i],u:cfg.upper[i],c:barColors[i]}));
  g.selectAll("line.err").data(rows).join("line").attr("class","err")
    .attr("x1",d=>x(d.k)+x.bandwidth()/2).attr("x2",d=>x(d.k)+x.bandwidth()/2)
    .attr("y1",d=>y(d.v)).attr("y2",d=>y(d.u)).attr("stroke",ink).attr("stroke-width",4);
  g.selectAll("line.cap").data(rows).join("line").attr("class","cap")
    .attr("x1",d=>x(d.k)+x.bandwidth()/2-22).attr("x2",d=>x(d.k)+x.bandwidth()/2+22)
    .attr("y1",d=>y(d.u)).attr("y2",d=>y(d.u)).attr("stroke",ink).attr("stroke-width",4);
  g.selectAll("rect").data(rows).join("rect")
    .attr("x",d=>x(d.k)).attr("width",x.bandwidth())
    .attr("y",d=>y(d.v)).attr("height",d=>y(0)-y(d.v))
    .attr("fill",d=>d.c).attr("stroke","#1f2a30").attr("stroke-width",4);
  const ya=g.append("g").attr("transform","translate(3285,0)")
    .call(d3.axisLeft(y).tickValues(cfg.ticks).tickFormat(cfg.fmt).tickSize(23).tickPadding(31).tickSizeOuter(0));
  const xa=g.append("g").attr("transform",`translate(0,${cfg.bottom})`)
    .call(d3.axisBottom(x).tickSize(22).tickPadding(23).tickSizeOuter(0));
  [ya,xa].forEach(a=>{
    a.selectAll("text").attr("font-size",60).attr("fill",ink).attr("font-family","Liberation Serif");
    a.selectAll("line").attr("stroke",ink).attr("stroke-width",4);
    a.select(".domain").attr("stroke",ink).attr("stroke-width",4);
  });
  xa.select(".domain").remove();
  g.append("line").attr("x1",3262).attr("x2",3773).attr("y1",cfg.bottom).attr("y2",cfg.bottom).attr("stroke",ink).attr("stroke-width",4);
  cfg.ylabels.forEach((t,i)=>g.append("text").attr("transform",`translate(${cfg.ylabelX[i]},${cfg.ylabelY}) rotate(-90)`)
    .attr("text-anchor","middle").attr("font-size",60).attr("fill",ink).text(t));
}
barChart({domain:[0,2],top:590,bottom:1157,mean:proteinMean,upper:proteinUpper,ticks:proteinTicks,fmt:d3.format(".1f"),
  ylabels:["SIRT1 protein expression","(fold to NC group)"],ylabelX:[3018,3100],ylabelY:875});
barChart({domain:[0,800],top:1953,bottom:2519,mean:activityMean,upper:activityUpper,ticks:activityTicks,fmt:d3.format("d"),
  ylabels:["SIRT1 activity","(U/mg protein)"],ylabelX:[3001,3079],ylabelY:2238});

svg.append("text").attr("x",2962).attr("y",239).attr("font-size",84).attr("fill","#000").text("B");
svg.append("text").attr("x",2962).attr("y",1597).attr("font-size",84).attr("fill","#000").text("C");
[235,342,448].forEach((y,i)=>svg.append("text").attr("x",3467).attr("y",y).attr("text-anchor","middle").attr("font-size",61).attr("fill",ink).text(statsB[i]));
function pLine(y,label,val){
  const t=svg.append("text").attr("x",3467).attr("y",y).attr("text-anchor","middle").attr("font-size",61).attr("fill",ink);
  t.append("tspan").text(label+": ");
  t.append("tspan").attr("font-style","italic").text("p");
  t.append("tspan").text(" = "+val);
}
pLine(1597,"BW","0.030");
pLine(1703,"Diet","0.016");
svg.append("text").attr("x",3467).attr("y",1810).attr("text-anchor","middle").attr("font-size",61).attr("fill",ink).text(statsB[2]);
</script></body></html>
